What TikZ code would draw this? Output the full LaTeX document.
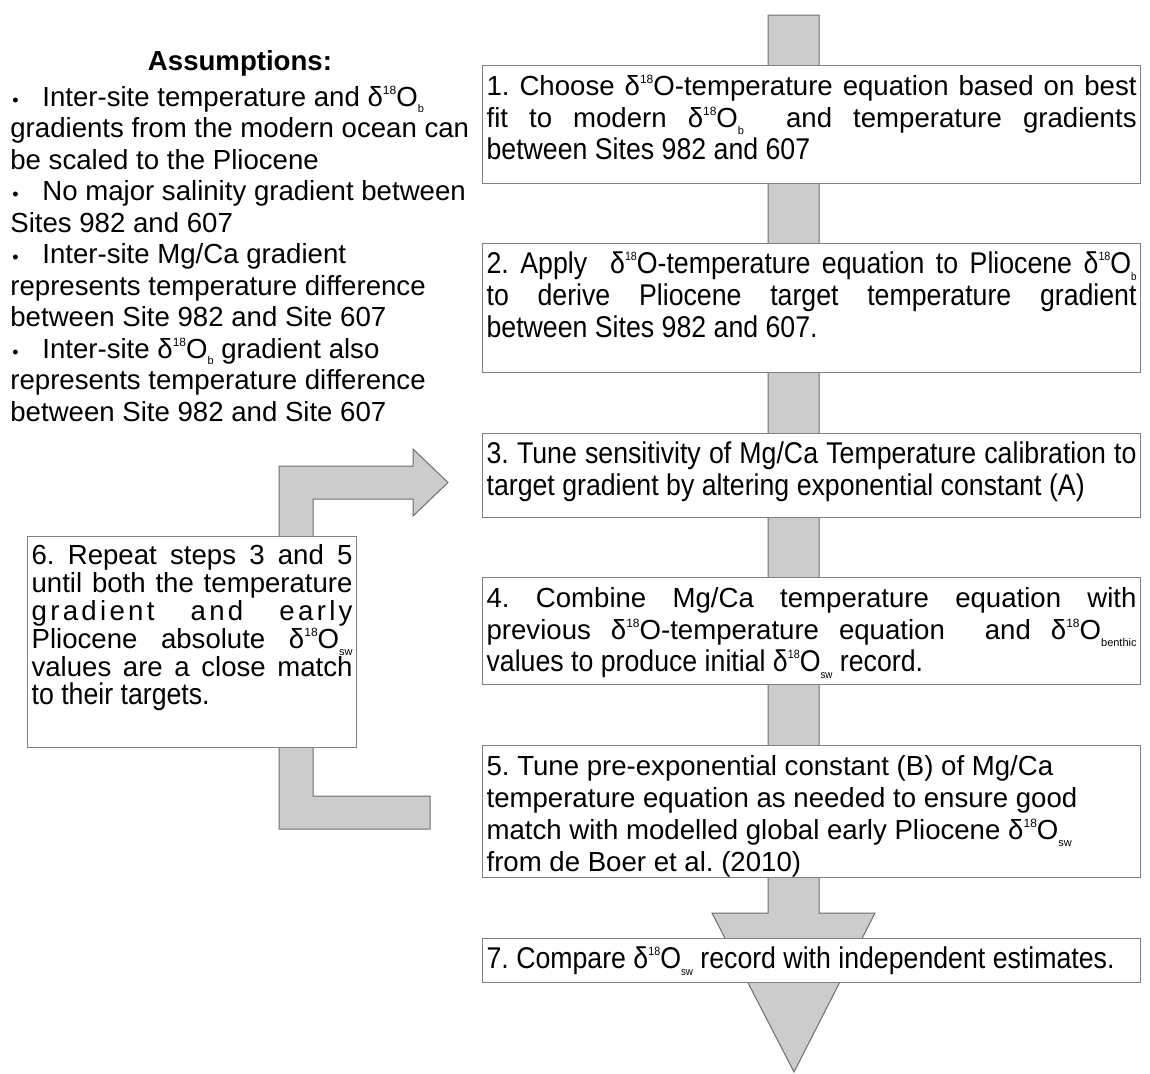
\documentclass[tikz,border=0pt]{standalone}
\usepackage{fontspec}
\setmainfont{Liberation Sans}
\newfontfamily\strettofont[FakeStretch=0.89]{Liberation Sans}
\usepackage{tikz}
\usetikzlibrary{calc}
\usepackage{xcolor}
\definecolor{grigio}{HTML}{CCCCCC}
\definecolor{bordo}{HTML}{808080}
\definecolor{bordofreccia}{HTML}{6E6E6E}
\newcommand{\stretto}{\strettofont\fontsize{15}{16}\selectfont}
\newcommand{\dO}[1]{δ\raisebox{0.8ex}{\fontsize{6}{6}\selectfont 18}O\raisebox{-0.45ex}{\fontsize{5.5}{5.5}\selectfont #1}}
\newcommand{\pallino}{\makebox[16pt][l]{\hspace{1pt}\fontsize{9}{9}\selectfont •}}
\newcommand{\riquadro}[3]{\parbox[t][#2][t]{#1}{\rule{0pt}{15pt}#3}}

\begin{document}
\frenchspacing
\begin{tikzpicture}[x=0.5pt, y=-0.5pt,
    freccia/.style={fill=grigio, draw=bordofreccia, line width=0.5pt},
    passo/.style={draw=bordo, fill=white, line width=0.6pt, inner xsep=2pt, inner ysep=0pt,
        anchor=north west, font=\fontsize{13.8}{16}\selectfont}]
    % area
    \useasboundingbox (0,0) rectangle (1150,1073);
    % Freccia centrale
    \coordinate (punta) at (794,1072);
    \draw[freccia] (768,15) -- (819,15) -- (819,913) -- (875,913) -- (punta) -- (712,913) -- (768,913) -- cycle;
    % Freccia del ciclo (passi 3 e 5)
    \coordinate (ritorno) at (448,482.5);
    \draw[freccia] (279,829) -- (430,829) -- (430,796) -- (313,796) -- (313,499) -- (413,499) -- (413,516)
        -- (ritorno) -- (413,449) -- (413,466) -- (279,466) -- cycle;
    % Ipotesi
    \node[font=\fontsize{13.8}{15.75}\selectfont\bfseries] (titolo) at (240,63) {Assumptions:};
    \node[anchor=north west, inner sep=0pt, font=\fontsize{13.8}{15.75}\selectfont] (ipotesi) at (10,80)
        {\parbox[t]{240pt}{\raggedright\rule{0pt}{13pt}\pallino Inter-site temperature and \dO{b}\\
        gradients from the modern ocean can\\
        be scaled to the Pliocene\\
        \pallino No major salinity gradient between\\
        Sites 982 and 607\\
        \pallino Inter-site Mg/Ca gradient\\
        represents temperature difference\\
        between Site 982 and Site 607\\
        \pallino Inter-site \dO{b} gradient also\\
        represents temperature difference\\
        between Site 982 and Site 607}};
    % Passi
    \node[passo] (passo1) at (482,65) {\riquadro{325pt}{59pt}{1. Choose \dO{}-temperature equation based on best\linebreak
        fit to modern \dO{b} \ and temperature gradients\linebreak
        {\stretto between Sites 982 and 607}}};
    \node[passo] (passo2) at (482,243) {\riquadro{325pt}{64.5pt}{\stretto 2. Apply \ \dO{}-temperature equation to Pliocene \dO{b}\linebreak
        to derive Pliocene target temperature gradient\linebreak
        between Sites 982 and 607.}};
    \node[passo] (passo3) at (482,433) {\riquadro{325pt}{42pt}{\stretto 3. Tune sensitivity of Mg/Ca Temperature calibration to\linebreak
        target gradient by altering exponential constant (A)}};
    \node[passo] (passo4) at (482,577) {\riquadro{325pt}{53.5pt}{4. Combine Mg/Ca temperature equation with\linebreak
        previous \dO{}-temperature equation \ and \dO{benthic}\linebreak
        {\stretto values to produce initial \dO{sw} record.}}};
    \node[passo] (passo5) at (482,745) {\riquadro{325pt}{66pt}{\raggedright 5. Tune pre-exponential constant (B) of Mg/Ca\\
        temperature equation as needed to ensure good\\
        match with modelled global early Pliocene \dO{sw}\\
        from de Boer et al. (2010)}};
    \node[passo] (passo7) at (482,938) {\riquadro{325pt}{22pt}{\stretto 7. Compare \dO{sw} record with independent estimates.}};
    % Passo 6
    \node[passo, font=\fontsize{13.8}{14}\selectfont] (passo6) at (27,536) {\parbox[t][105.5pt][t]{160.5pt}{\rule{0pt}{14pt}6. Repeat steps 3 and 5\linebreak
        until both the temperature\linebreak
        {\addfontfeature{LetterSpace=12}gradient and early}\linebreak
        Pliocene absolute \dO{sw}\linebreak
        values are a close match\linebreak
        {\stretto to their targets.}}};
\end{tikzpicture}
\end{document}
